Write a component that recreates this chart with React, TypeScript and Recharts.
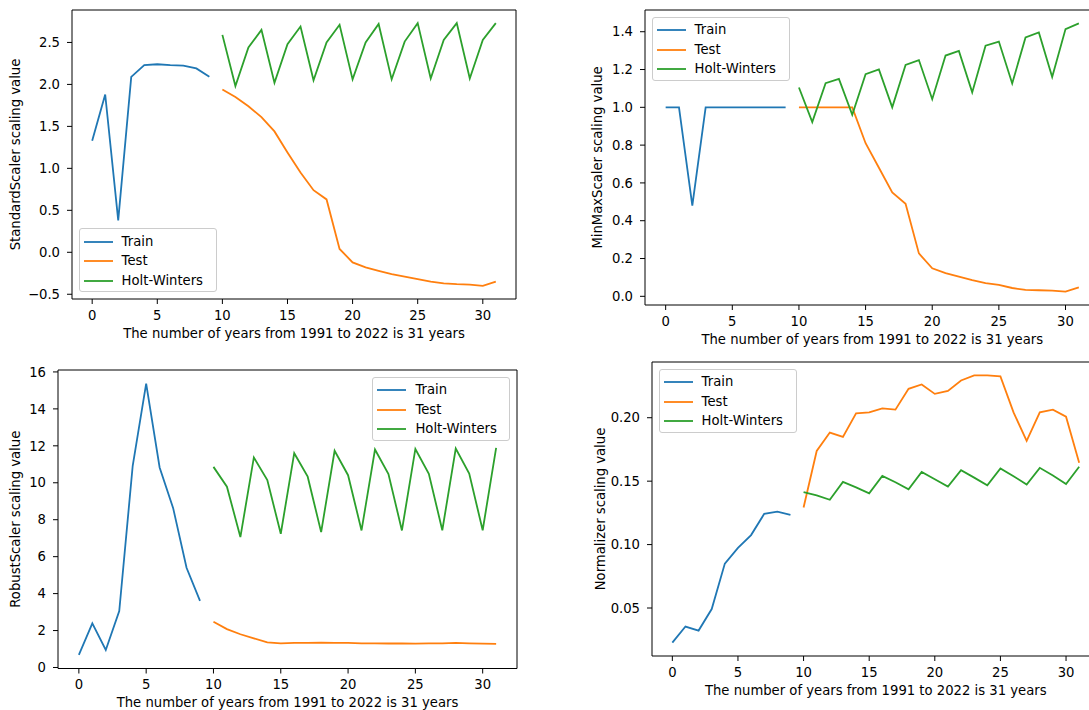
import React from 'react';
import { LineChart, Line, XAxis, YAxis, ReferenceArea } from 'recharts';

// x positions (years since 1991)
const years = [0, 1, 2, 3, 4, 5, 6, 7, 8, 9, 10, 11, 12, 13, 14, 15, 16, 17, 18, 19, 20, 21, 22, 23, 24, 25, 26, 27, 28, 29, 30, 31];
const xTicks = [0, 5, 10, 15, 20, 25, 30];
const xLabel = 'The number of years from 1991 to 2022 is 31 years';

// StandardScaler
const trainStd = [1.33, 1.88, 0.38, 2.09, 2.23, 2.24, 2.23, 2.225, 2.19, 2.09];
const testStd = [1.94, 1.85, 1.74, 1.61, 1.44, 1.19, 0.95, 0.74, 0.63, 0.04, -0.12, -0.18, -0.22, -0.26, -0.29, -0.32, -0.35, -0.37, -0.38, -0.385, -0.4, -0.35];
const hwStd = [2.59, 1.98, 2.44, 2.65, 2.02, 2.48, 2.69, 2.05, 2.5, 2.71, 2.06, 2.5, 2.72, 2.06, 2.51, 2.73, 2.07, 2.53, 2.73, 2.07, 2.53, 2.73];
const stdTicks = [-0.5, 0, 0.5, 1, 1.5, 2, 2.5];

// MinMaxScaler
const trainMm = [1.0, 1.0, 0.48, 1.0, 1.0, 1.0, 1.0, 1.0, 1.0, 1.0];
const testMm = [1.0, 1.0, 1.0, 1.0, 1.0, 0.81, 0.68, 0.55, 0.49, 0.227, 0.148, 0.123, 0.104, 0.086, 0.07, 0.06, 0.044, 0.034, 0.032, 0.03, 0.025, 0.047];
const hwMm = [1.105, 0.922, 1.128, 1.15, 0.96, 1.175, 1.2, 1.0, 1.224, 1.25, 1.043, 1.274, 1.298, 1.079, 1.326, 1.348, 1.126, 1.37, 1.396, 1.161, 1.414, 1.444];
const mmTicks = [0, 0.2, 0.4, 0.6, 0.8, 1.0, 1.2, 1.4];

// RobustScaler
const trainRb = [0.68, 2.39, 0.95, 3.05, 10.92, 15.37, 10.83, 8.64, 5.4, 3.61];
const testRb = [2.48, 2.08, 1.8, 1.58, 1.36, 1.31, 1.33, 1.33, 1.35, 1.33, 1.33, 1.31, 1.31, 1.3, 1.3, 1.29, 1.31, 1.31, 1.33, 1.31, 1.29, 1.28];
const hwRb = [10.86, 9.79, 7.06, 11.37, 10.15, 7.24, 11.6, 10.33, 7.33, 11.73, 10.41, 7.42, 11.8, 10.47, 7.42, 11.83, 10.49, 7.43, 11.85, 10.5, 7.43, 11.89];
const rbTicks = [0, 2, 4, 6, 8, 10, 12, 14, 16];

// Normalizer
const trainNm = [0.0227, 0.0354, 0.0322, 0.0492, 0.085, 0.0974, 0.1075, 0.1242, 0.126, 0.1234];
const testNm = [0.1292, 0.1738, 0.1883, 0.1849, 0.2034, 0.2042, 0.2074, 0.2064, 0.2228, 0.2262, 0.2188, 0.2212, 0.2294, 0.2334, 0.2334, 0.2326, 0.2042, 0.1817, 0.2042, 0.2064, 0.2008, 0.1645];
const hwNm = [0.1414, 0.1388, 0.1353, 0.1494, 0.1451, 0.1404, 0.1541, 0.1491, 0.1435, 0.1573, 0.1515, 0.1457, 0.1587, 0.1528, 0.1467, 0.16, 0.1539, 0.1473, 0.1605, 0.1544, 0.1478, 0.1613];
const nmTicks = [0.05, 0.1, 0.15, 0.2];

const FONT = '"DejaVu Sans", sans-serif';
const FS = 13.2;
const BLUE = '#1f77b4';
const ORANGE = '#ff7f0e';
const GREEN = '#2ca02c';
const YW = 72;
const XH = 30;

function minus(s: string) {
  return s.startsWith('-') ? '\u2212' + s.slice(1) : s;
}

function pad(values: number[]) {
  const lo = Math.min(...values);
  const hi = Math.max(...values);
  const p = (hi - lo) * 0.05;
  return [lo - p, hi + p];
}

type PanelProps = {
  plot: { left: number; top: number; right: number; bottom: number };
  train: number[];
  test: number[];
  hw: number[];
  yTicks: number[];
  digits: number;
  yLabel: string;
  yLabelDist: number;
  legend: 'lower left' | 'upper left' | 'upper right';
};

function Legend({ plot, legend }: { plot: PanelProps['plot']; legend: PanelProps['legend'] }) {
  const w = 138;
  const h = 64;
  const gap = 6.6;
  const left = legend === 'upper right' ? plot.right - gap - w : plot.left + gap;
  const top = legend === 'lower left' ? plot.bottom - gap - h : plot.top + gap;
  const items = [
    { name: 'Train', color: BLUE },
    { name: 'Test', color: ORANGE },
    { name: 'Holt-Winters', color: GREEN },
  ];
  return (
    <div
      style={{
        position: 'absolute',
        left,
        top,
        width: w,
        height: h,
        boxSizing: 'border-box',
        border: '1px solid #cccccc',
        borderRadius: 3,
        background: 'rgba(255,255,255,0.8)',
        fontFamily: FONT,
        fontSize: FS,
        color: '#000',
      }}
    >
      {items.map((it, i) => (
        <div key={it.name} style={{ position: 'absolute', left: 0, top: 12.3 + i * 19.7 - 10, height: 20, width: w }}>
          <svg width={32} height={20} style={{ position: 'absolute', left: 3, top: 0 }}>
            <line x1={1} y1={10} x2={30} y2={10} stroke={it.color} strokeWidth={1.8} />
          </svg>
          <span style={{ position: 'absolute', left: 42, top: 0, lineHeight: '20px', whiteSpace: 'nowrap' }}>{it.name}</span>
        </div>
      ))}
    </div>
  );
}

function Panel({ plot, train, test, hw, yTicks, digits, yLabel, yLabelDist, legend }: PanelProps) {
  const rows = years.map(i => ({
    x: i,
    train: i < 10 ? train[i] : null,
    test: i >= 10 ? test[i - 10] : null,
    hw: i >= 10 ? hw[i - 10] : null,
  }));
  const [lo, hi] = pad([...train, ...test, ...hw]);
  const xDomain = [-1.55, 32.55];
  const frameLeft = plot.left - YW - 8;
  const frameTop = plot.top - 10;
  const width = plot.right - frameLeft + 10;
  const height = plot.bottom - frameTop + XH + 30;
  const tickStyle = { fill: '#000', fontSize: FS, fontFamily: FONT };

  return (
    <>
      <div style={{ position: 'absolute', left: frameLeft, top: frameTop }}>
        <LineChart
          width={width}
          height={height}
          data={rows}
          margin={{ top: 10, right: 10, bottom: 30, left: 8 }}
          style={{ overflow: 'visible' }}
        >
          <XAxis
            dataKey="x"
            type="number"
            domain={xDomain}
            ticks={xTicks}
            interval={0}
            height={XH}
            axisLine={false}
            tickLine={{ stroke: '#000' }}
            tickSize={5}
            tickMargin={6.5}
            tick={tickStyle}
            label={{
              content: (p: any) => {
                const vb = p.viewBox;
                return (
                  <text
                    x={vb.x + vb.width / 2}
                    y={vb.y + 38.5}
                    textAnchor="middle"
                    fontSize={FS}
                    fontFamily={FONT}
                    fill="#000"
                  >
                    {xLabel}
                  </text>
                );
              },
            }}
          />
          <YAxis
            type="number"
            domain={[lo, hi]}
            ticks={yTicks}
            interval={0}
            width={YW}
            axisLine={false}
            tickLine={{ stroke: '#000' }}
            tickSize={5}
            tickMargin={7}
            tick={tickStyle}
            tickFormatter={(v: number) => minus(v.toFixed(digits))}
            label={{
              content: (p: any) => {
                const vb = p.viewBox;
                const cx = vb.x + vb.width - yLabelDist;
                const cy = vb.y + vb.height / 2;
                return (
                  <text
                    x={cx}
                    y={cy}
                    transform={`rotate(-90 ${cx} ${cy})`}
                    textAnchor="middle"
                    dominantBaseline="central"
                    fontSize={FS}
                    fontFamily={FONT}
                    fill="#000"
                  >
                    {yLabel}
                  </text>
                );
              },
            }}
          />
          <Line type="linear" dataKey="train" stroke={BLUE} strokeWidth={1.8} dot={false} activeDot={false} isAnimationActive={false} />
          <Line type="linear" dataKey="test" stroke={ORANGE} strokeWidth={1.8} dot={false} activeDot={false} isAnimationActive={false} />
          <Line type="linear" dataKey="hw" stroke={GREEN} strokeWidth={1.8} dot={false} activeDot={false} isAnimationActive={false} />
          <ReferenceArea x1={xDomain[0]} x2={xDomain[1]} y1={lo} y2={hi} fill="none" stroke="#000" strokeWidth={1} />
        </LineChart>
      </div>
      <Legend plot={plot} legend={legend} />
    </>
  );
}

export default function App() {
  return (
    <div
      style={{
        position: 'absolute',
        left: 0,
        top: 0,
        width: 1089,
        height: 710,
        overflow: 'hidden',
        background: '#fff',
      }}
    >
      <Panel
        plot={{ left: 72, top: 10, right: 516, bottom: 299 }}
        train={trainStd}
        test={testStd}
        hw={hwStd}
        yTicks={stdTicks}
        digits={1}
        yLabel="StandardScaler scaling value"
        yLabelDist={57}
        legend="lower left"
      />
      <Panel
        plot={{ left: 645, top: 10, right: 1099.5, bottom: 305 }}
        train={trainMm}
        test={testMm}
        hw={hwMm}
        yTicks={mmTicks}
        digits={1}
        yLabel="MinMaxScaler scaling value"
        yLabelDist={48}
        legend="upper left"
      />
      <Panel
        plot={{ left: 58, top: 370, right: 517, bottom: 668.5 }}
        train={trainRb}
        test={testRb}
        hw={hwRb}
        yTicks={rbTicks}
        digits={0}
        yLabel="RobustScaler scaling value"
        yLabelDist={43}
        legend="upper right"
      />
      <Panel
        plot={{ left: 652, top: 362, right: 1099.5, bottom: 656 }}
        train={trainNm}
        test={testNm}
        hw={hwNm}
        yTicks={nmTicks}
        digits={2}
        yLabel="Normalizer scaling value"
        yLabelDist={52}
        legend="upper left"
      />
    </div>
  );
}
